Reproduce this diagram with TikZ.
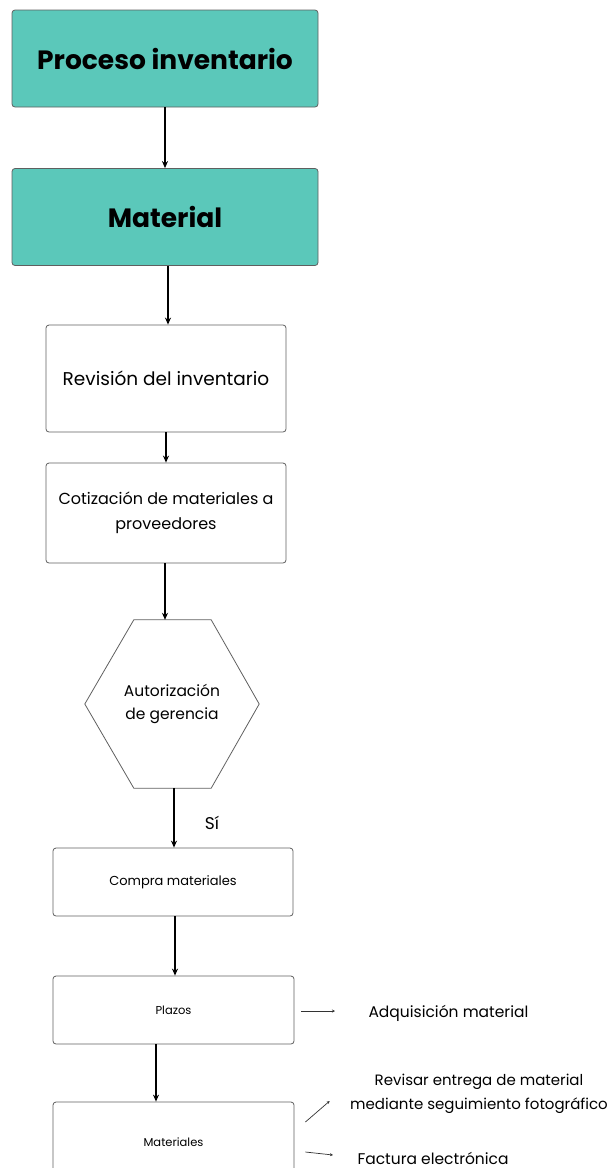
\documentclass[tikz,border=0pt]{standalone}
\usepackage{fontspec}
\setmainfont{Poppins}
\usetikzlibrary{positioning,arrows.meta}
\definecolor{tealbox}{RGB}{91,200,186}
\definecolor{boxline}{RGB}{95,95,95}

\begin{document}
\begin{tikzpicture}[x=1pt,y=-1pt,
  head/.style={draw=boxline,line width=0.8pt,fill=tealbox,rounded corners=3pt,minimum width=306pt,
               minimum height=97pt,font=\fontsize{26.5}{30}\selectfont\bfseries},
  stepbox/.style={draw=boxline,line width=0.8pt,rounded corners=3pt,align=center,inner sep=2pt},
  arr/.style={-{Stealth[length=7pt,width=6pt]},line width=1.4pt},
  side/.style={-{Stealth[length=3pt,width=3pt]},line width=0.7pt,draw=black!80},
  note/.style={font=\fontsize{15.5}{18}\selectfont,align=center},
]
\useasboundingbox (0,0) rectangle (614,1168);

% Header boxes
\node[head] (proc) at (165,58.5) {Proceso inventario};
\node[head] (mat) at (165,217) {Material};

% Steps
\node[stepbox,minimum width=240pt,minimum height=107pt,font=\fontsize{18.5}{21}\selectfont]
  (rev) at (166,378.5) {Revisión del inventario};
\node[stepbox,minimum width=240pt,minimum height=100pt,font=\fontsize{16}{25}\selectfont]
  (cot) at (166,513) {Cotización de materiales a\\proveedores};

% Hexagon (authorisation)
\node[minimum width=174pt,minimum height=168pt,align=center,
  font=\fontsize{15.5}{23}\selectfont] (aut) at (172,704) {Autorización\\de gerencia};
\draw[boxline,line width=0.8pt] ([xshift=49pt]aut.north west) -- ([xshift=-48pt]aut.north east)
  -- (aut.east) -- ([xshift=-48pt]aut.south east) -- ([xshift=49pt]aut.south west)
  -- (aut.west) -- cycle;

\node[stepbox,minimum width=240pt,minimum height=68pt,font=\fontsize{13}{14}\selectfont]
  (comp) at (173,882) {Compra materiales};
\node[stepbox,minimum width=241pt,minimum height=68pt,font=\fontsize{11.5}{14}\selectfont]
  (plaz) at (173.5,1010) {Plazos};
\node[stepbox,minimum width=241pt,minimum height=80pt,font=\fontsize{11.5}{14}\selectfont]
  (mats) at (173.5,1142) {Materiales};

% Main flow
\draw[arr] (proc) -- (mat);
\draw[arr] ([xshift=3pt]mat.south) -- ([xshift=2pt]rev.north);
\draw[arr] (rev) -- (cot);
\draw[arr] ([xshift=-1pt]cot.south) -- ([xshift=-7pt]aut.north);
\draw[arr] ([xshift=2pt]aut.south) -- ([xshift=1pt]comp.north);
\node[font=\fontsize{17}{20}\selectfont] (si) at (212,823) {Sí};
\draw[arr] ([xshift=2pt]comp.south) -- ([xshift=1.5pt]plaz.north);
\draw[arr] ([xshift=-17.5pt]plaz.south) -- ([xshift=-17.5pt]mats.north);

% Side notes
\node[note,anchor=west] (adq) at (365,1013) {Adquisición material};
\node[note,font=\fontsize{15}{24}\selectfont] (revi) at (479,1094)
  {Revisar entrega de material\\mediante seguimiento fotográfico};
\node[note,anchor=west] (fact) at (354,1158) {Factura electrónica};
\draw[side] ([xshift=7pt,yshift=-1pt]plaz.east) -- ([xshift=-30pt,yshift=2pt]adq.west);
\draw[side] ([xshift=11pt,yshift=20pt]mats.east) -- ([xshift=-17pt,yshift=-7pt]revi.west);
\draw[side] ([xshift=11pt,yshift=-10pt]mats.east) -- ([xshift=-21pt,yshift=3pt]fact.west);

\end{tikzpicture}
\end{document}
